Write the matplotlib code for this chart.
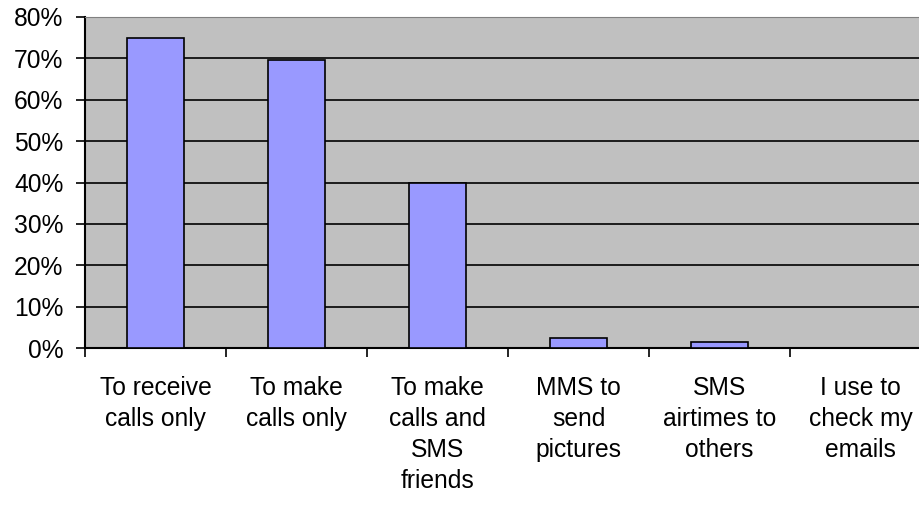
import numpy as np
from matplotlib import pyplot as plt
from matplotlib.ticker import FixedLocator, PercentFormatter

plt.rcParams['font.family'] = ['Liberation Sans', 'DejaVu Sans']

# 用途类别与对应比例
categories = ['To receive\ncalls only', 'To make\ncalls only', 'To make\ncalls and\nSMS\nfriends',
              'MMS to\nsend\npictures', 'SMS\nairtimes to\nothers', 'I use to\ncheck my\nemails']
shares = [0.75, 0.695, 0.40, 0.024, 0.014, 0.0]
y_ticks = [0, 0.1, 0.2, 0.3, 0.4, 0.5, 0.6, 0.7, 0.8]

fig = plt.figure(figsize=(9.2, 5.07), dpi=100)
# 绘图区右侧超出画布
ax = fig.add_axes([85/920, 1 - 348/507, 846/920, 331/507])
ax.set_facecolor('#C0C0C0')

x = np.arange(len(categories))
ax.bar(x, shares, width=0.4, color='#9999FF', edgecolor='black', linewidth=1.2, zorder=3)

ax.set_xlim(-0.5, len(categories) - 0.5)
ax.set_ylim(0, 0.8)
ax.set_yticks(y_ticks)
ax.yaxis.set_major_formatter(PercentFormatter(1.0, decimals=0))
ax.grid(axis='y', color='black', linewidth=1.2, zorder=1)
ax.set_axisbelow(True)

ax.set_xticks(x)
ax.set_xticklabels(categories, fontsize=17.7, linespacing=1.37, va='top')
ax.xaxis.set_minor_locator(FixedLocator(np.arange(len(categories) + 1) - 0.5))
ax.tick_params(axis='x', which='major', length=0, pad=20)
ax.tick_params(axis='x', which='minor', length=6.5, width=1.2, color='black')
ax.tick_params(axis='y', length=6.5, width=1.2, labelsize=17.7, pad=9)

ax.spines['top'].set_color('#808080')
ax.spines['right'].set_color('#808080')
ax.spines['left'].set_linewidth(1.5)
ax.spines['bottom'].set_linewidth(1.5)

plt.savefig('out.png', dpi=100)
